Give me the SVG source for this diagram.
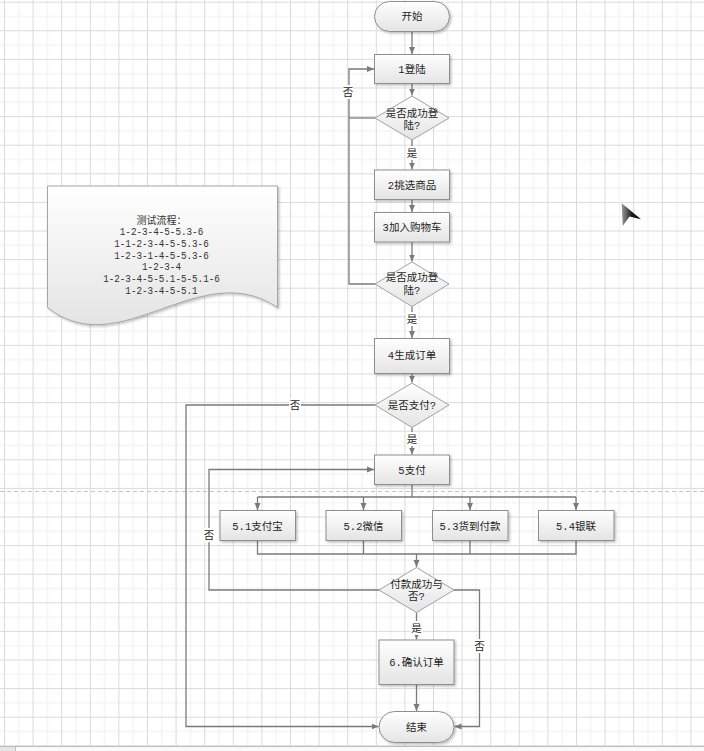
<svg xmlns="http://www.w3.org/2000/svg" width="704" height="751" viewBox="0 0 704 751">
<defs>
<pattern id="grid" x="4" y="1.7" width="28.6" height="28.6" patternUnits="userSpaceOnUse">
<path d="M14.8,0 V28.6 M0,14.8 H28.6" stroke="#efefef" stroke-width="1" fill="none"/>
<path d="M0.5,0 V28.6 M0,0.5 H28.6" stroke="#dadada" stroke-width="1" fill="none"/>
</pattern>
<linearGradient id="g" x1="0" y1="0" x2="0" y2="1">
<stop offset="0" stop-color="#ffffff"/>
<stop offset="1" stop-color="#e4e4e4"/>
</linearGradient>
<linearGradient id="cur" x1="0" y1="0" x2="1" y2="0">
<stop offset="0" stop-color="#9a9a9a"/>
<stop offset="0.5" stop-color="#222"/>
<stop offset="1" stop-color="#000"/>
</linearGradient>
<marker id="ah" markerUnits="userSpaceOnUse" markerWidth="8" markerHeight="8" refX="7" refY="4" orient="auto">
<path d="M0,1 L7,4 L0,7 z" fill="#7a7a7a"/>
</marker>
<filter id="sh" x="-10%" y="-10%" width="130%" height="140%">
<feDropShadow dx="1.5" dy="1.5" stdDeviation="0.8" flood-color="#000" flood-opacity="0.25"/>
</filter>
</defs>
<style>
.box{fill:url(#g);stroke:#8e8e8e;stroke-width:1;filter:url(#sh)}
.dia{fill:url(#g);stroke:#a2a2a2;stroke-width:1}
.c{fill:none;stroke:#7a7a7a;stroke-width:1.3}
.a{marker-end:url(#ah)}
text{font-family:"Liberation Mono","Noto Sans CJK SC",monospace;font-size:10.5px;fill:#1e1e1e;text-anchor:middle}
.lb{fill:#fff;stroke:none}
.note{font-size:10px;fill:#333}
</style>
<rect width="704" height="751" fill="#fff"/>
<rect width="704" height="747" fill="url(#grid)"/>
<line x1="0" y1="491.5" x2="704" y2="491.5" stroke="#c4c4c4" stroke-width="1" stroke-dasharray="4 3"/>
<rect x="0" y="747" width="704" height="4" fill="#fafafa"/>
<line x1="0" y1="746.5" x2="704" y2="746.5" stroke="#bdbdbd" stroke-width="1"/>
<rect x="0" y="747" width="15" height="4" fill="#e6e6e6"/>
<line x1="15.5" y1="747" x2="15.5" y2="751" stroke="#bdbdbd" stroke-width="1"/>

<g id="connectors">
<path class="c a" d="M412,31.5 V54"/>
<path class="c a" d="M412,83.5 V95.5"/>
<path class="c a" d="M412,140 V169.5"/>
<path class="c a" d="M412,199.5 V212"/>
<path class="c a" d="M412,242 V261.5"/>
<path class="c a" d="M412,306.5 V338"/>
<path class="c a" d="M412,373.5 V382.5"/>
<path class="c a" d="M412,427.5 V454.5"/>
<path class="c" d="M375,118 H349"/>
<path class="c a" d="M375,284 H349 V69 H374"/>
<path class="c a" d="M375,405 H186 V726.5 H378.5"/>
<path class="c a" d="M379,590 H209 V469.5 H374"/>
<path class="c" d="M412,484.5 V497 M257.5,497 H576"/>
<path class="c a" d="M257.5,497 V510"/>
<path class="c a" d="M363.5,497 V510"/>
<path class="c a" d="M470,497 V510"/>
<path class="c a" d="M576,497 V510"/>
<path class="c" d="M257.5,540.5 V554 H576 V540.5 M363.5,540.5 V554 M470,540.5 V554"/>
<path class="c a" d="M416.5,554 V567"/>
<path class="c a" d="M454,590 H479.5 V726.5 H454.5"/>
<path class="c a" d="M416.5,612.5 V639.5"/>
<path class="c a" d="M416.5,684.5 V711"/>
<rect class="lb" x="342" y="85" width="12" height="14"/>
<text x="348" y="96">否</text>
<rect class="lb" x="406" y="146" width="12" height="14"/>
<text x="412" y="157">是</text>
<rect class="lb" x="406" y="312" width="12" height="14"/>
<text x="412" y="323">是</text>
<rect class="lb" x="289" y="398" width="12" height="14"/>
<text x="295" y="409">否</text>
<rect class="lb" x="406" y="432" width="12" height="14"/>
<text x="412" y="443">是</text>
<rect class="lb" x="203" y="528" width="12" height="14"/>
<text x="209" y="539">否</text>
<rect class="lb" x="410.5" y="621" width="12" height="14"/>
<text x="416.5" y="632">是</text>
<rect class="lb" x="473.5" y="639" width="12" height="14"/>
<text x="479.5" y="650">否</text>
</g>

<g id="start">
<rect class="box" x="374.5" y="1.5" width="75" height="30" rx="15"/>
<text x="412" y="20">开始</text>
</g>
<g id="login">
<rect class="box" x="374.5" y="54.5" width="75" height="29"/>
<text x="412" y="72.5">1登陆</text>
</g>
<g id="check1">
<polygon class="dia" points="412,96 449,118 412,140 375,118"/>
<text x="412" y="117">是否成功登</text>
<text x="412" y="128.5">陆?</text>
</g>
<g id="choose">
<rect class="box" x="374.5" y="170" width="75" height="29.5"/>
<text x="412" y="188.5">2挑选商品</text>
</g>
<g id="cart">
<rect class="box" x="374.5" y="212.5" width="75" height="29.5"/>
<text x="412" y="231">3加入购物车</text>
</g>
<g id="check2">
<polygon class="dia" points="412,262 449,284 412,306.5 375,284"/>
<text x="412" y="281">是否成功登</text>
<text x="412" y="293.5">陆?</text>
</g>
<g id="order">
<rect class="box" x="374.5" y="338.5" width="75" height="35"/>
<text x="412" y="359">4生成订单</text>
</g>
<g id="check3">
<polygon class="dia" points="412,383 449,405 412,427.5 375,405"/>
<text x="412" y="409">是否支付?</text>
</g>
<g id="pay">
<rect class="box" x="374.5" y="455" width="75" height="29.5"/>
<text x="412" y="473.5">5支付</text>
</g>
<g id="alipay">
<rect class="box" x="220" y="510.5" width="75.5" height="30"/>
<text x="257.5" y="529.5">5.1支付宝</text>
</g>
<g id="wechat">
<rect class="box" x="326" y="510.5" width="75.5" height="30"/>
<text x="363.5" y="529.5">5.2微信</text>
</g>
<g id="cod">
<rect class="box" x="432.5" y="510.5" width="75.5" height="30"/>
<text x="470" y="529.5">5.3货到付款</text>
</g>
<g id="unionpay">
<rect class="box" x="538.5" y="510.5" width="75.5" height="30"/>
<text x="576" y="529.5">5.4银联</text>
</g>
<g id="check4">
<polygon class="dia" points="416.5,567.5 454,590 416.5,612.5 379,590"/>
<text x="416.5" y="588">付款成功与</text>
<text x="416.5" y="600">否?</text>
</g>
<g id="confirm">
<rect class="box" x="379" y="640" width="75" height="44.5"/>
<text x="416.5" y="666">6.确认订单</text>
</g>
<g id="end">
<rect class="box" x="379" y="711.5" width="75" height="31" rx="15.5"/>
<text x="416.5" y="731">结束</text>
</g>

<g id="note">
<path class="box" d="M47.5,186 H277.5 V307.5 C200,255 120,365 47.5,307.5 Z" style="stroke:#a6a6a6"/>
<text class="note" x="161.5" y="223.5">测试流程：</text>
<text class="note" x="161.5" y="235.2" textLength="83.4" lengthAdjust="spacingAndGlyphs">1-2-3-4-5-5.3-6</text>
<text class="note" x="161.5" y="246.8" textLength="94.5" lengthAdjust="spacingAndGlyphs">1-1-2-3-4-5-5.3-6</text>
<text class="note" x="161.5" y="258.5" textLength="94.5" lengthAdjust="spacingAndGlyphs">1-2-3-1-4-5-5.3-6</text>
<text class="note" x="161.5" y="270.2" textLength="38.9" lengthAdjust="spacingAndGlyphs">1-2-3-4</text>
<text class="note" x="161.5" y="281.8" textLength="116.7" lengthAdjust="spacingAndGlyphs">1-2-3-4-5-5.1-5-5.1-6</text>
<text class="note" x="161.5" y="293.5" textLength="72.3" lengthAdjust="spacingAndGlyphs">1-2-3-4-5-5.1</text>
</g>

<g id="cursor">
<polygon points="621.7,203.3 641,219.3 629.5,216.5 622.7,226" fill="url(#cur)"/>
</g>
</svg>
